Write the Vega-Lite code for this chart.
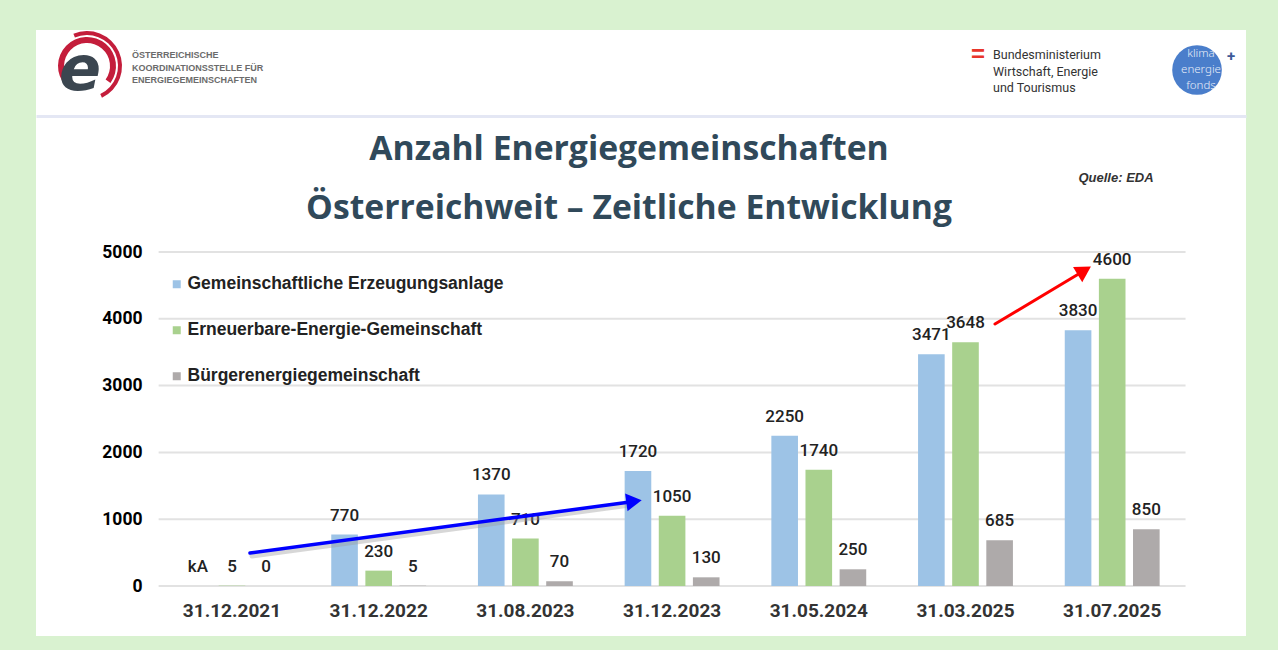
{
  "$schema": "https://vega.github.io/schema/vega-lite/v6.json",
  "width": 1210,
  "height": 606,
  "autosize": {"type": "none"},
  "padding": {"left": 36, "top": 30, "right": 32, "bottom": 14},
  "background": "#d9f2d0",
  "config": {"view": {"fill": "#ffffff", "stroke": null}, "font": "Roboto"},
  "title": {
    "text": ["Anzahl Energiegemeinschaften", "Österreichweit – Zeitliche Entwicklung"],
    "font": "Open Sans", "fontSize": 33.7, "fontWeight": "bold", "color": "#30495a",
    "anchor": "middle", "frame": "group", "baseline": "top", "offset": -195.5, "dx": -12, "lineHeight": 59
  },
  "data": {"values": [{}]},
  "datasets": {
    "counts": [
      {"date": "31.12.2021", "series": "Gemeinschaftliche Erzeugungsanlage", "value": 0, "label": "kA"},
      {"date": "31.12.2021", "series": "Erneuerbare-Energie-Gemeinschaft", "value": 5, "label": "5"},
      {"date": "31.12.2021", "series": "Bürgerenergiegemeinschaft", "value": 0, "label": "0"},
      {"date": "31.12.2022", "series": "Gemeinschaftliche Erzeugungsanlage", "value": 770, "label": "770"},
      {"date": "31.12.2022", "series": "Erneuerbare-Energie-Gemeinschaft", "value": 230, "label": "230"},
      {"date": "31.12.2022", "series": "Bürgerenergiegemeinschaft", "value": 5, "label": "5"},
      {"date": "31.08.2023", "series": "Gemeinschaftliche Erzeugungsanlage", "value": 1370, "label": "1370"},
      {"date": "31.08.2023", "series": "Erneuerbare-Energie-Gemeinschaft", "value": 710, "label": "710"},
      {"date": "31.08.2023", "series": "Bürgerenergiegemeinschaft", "value": 70, "label": "70"},
      {"date": "31.12.2023", "series": "Gemeinschaftliche Erzeugungsanlage", "value": 1720, "label": "1720"},
      {"date": "31.12.2023", "series": "Erneuerbare-Energie-Gemeinschaft", "value": 1050, "label": "1050"},
      {"date": "31.12.2023", "series": "Bürgerenergiegemeinschaft", "value": 130, "label": "130"},
      {"date": "31.05.2024", "series": "Gemeinschaftliche Erzeugungsanlage", "value": 2250, "label": "2250"},
      {"date": "31.05.2024", "series": "Erneuerbare-Energie-Gemeinschaft", "value": 1740, "label": "1740"},
      {"date": "31.05.2024", "series": "Bürgerenergiegemeinschaft", "value": 250, "label": "250"},
      {"date": "31.03.2025", "series": "Gemeinschaftliche Erzeugungsanlage", "value": 3471, "label": "3471"},
      {"date": "31.03.2025", "series": "Erneuerbare-Energie-Gemeinschaft", "value": 3648, "label": "3648"},
      {"date": "31.03.2025", "series": "Bürgerenergiegemeinschaft", "value": 685, "label": "685"},
      {"date": "31.07.2025", "series": "Gemeinschaftliche Erzeugungsanlage", "value": 3830, "label": "3830"},
      {"date": "31.07.2025", "series": "Erneuerbare-Energie-Gemeinschaft", "value": 4600, "label": "4600"},
      {"date": "31.07.2025", "series": "Bürgerenergiegemeinschaft", "value": 850, "label": "850"}
    ],
    "grid": [{"tick": 0}, {"tick": 1000}, {"tick": 2000}, {"tick": 3000}, {"tick": 4000}, {"tick": 5000}]
  },
  "layer": [
    {
      "data": {"name": "grid"},
      "mark": {"type": "rule", "color": "#e2e2e2", "strokeWidth": 2},
      "encoding": {
        "x": {"datum": "31.12.2021", "type": "nominal", "bandPosition": -0.2463,
          "scale": {"domain": ["31.12.2021", "31.12.2022", "31.08.2023", "31.12.2023", "31.05.2024", "31.03.2025", "31.07.2025"], "paddingInner": 0.33, "paddingOuter": 0.789, "align": 0.6343},
          "axis": {"title": null, "orient": "bottom", "offset": -26, "domain": false, "ticks": false, "tickSize": 0, "labelPadding": 0, "labelBaseline": "middle", "labelFont": "Roboto", "labelFontSize": 19, "labelFontWeight": "bold", "labelColor": "#333333", "labelAngle": 0, "grid": false}},
        "x2": {"datum": "31.07.2025", "bandPosition": 1.2463},
        "y": {"field": "tick", "type": "quantitative",
          "scale": {"domain": [-748.5, 8323.4], "nice": false, "zero": false},
          "axis": {"title": null, "values": [0, 1000, 2000, 3000, 4000, 5000, 7036], "format": "d", "labelExpr": "datum.value > 6000 ? '' : datum.label", "offset": -106, "domain": false, "ticks": false, "tickSize": 0, "labelPadding": 0, "labelFont": "Roboto", "labelFontSize": 17.5, "labelFontWeight": "bold", "labelColor": "#000000", "grid": true, "gridColor": {"condition": {"test": "datum.value > 6000", "value": "#e4e7f4"}, "value": "transparent"}, "gridWidth": 3}}
      }
    },
    {
      "data": {"name": "counts"},
      "mark": {"type": "bar"},
      "encoding": {
        "x": {"field": "date", "type": "nominal"},
        "xOffset": {"field": "series", "scale": {"domain": ["Gemeinschaftliche Erzeugungsanlage", "Erneuerbare-Energie-Gemeinschaft", "Bürgerenergiegemeinschaft"], "paddingInner": 0.22, "paddingOuter": 0.05}},
        "y": {"field": "value", "type": "quantitative"},
        "color": {"field": "series", "type": "nominal",
          "scale": {"domain": ["Gemeinschaftliche Erzeugungsanlage", "Erneuerbare-Energie-Gemeinschaft", "Bürgerenergiegemeinschaft"], "range": ["#9dc3e6", "#a9d18e", "#aeaaaa"]},
          "legend": {"title": null, "orient": "none", "legendX": 132, "legendY": 245.5, "direction": "vertical", "symbolType": "square", "symbolSize": 64, "symbolStrokeWidth": 0, "labelFont": "Liberation Sans", "labelFontSize": 17.5, "labelFontWeight": "bold", "labelColor": "#222222", "labelLimit": 0, "rowPadding": 27, "labelOffset": 2, "padding": 0}}
      }
    },
    {
      "data": {"name": "counts"},
      "mark": {"type": "text", "baseline": "middle", "dy": -19, "font": "Roboto", "fontSize": 17, "fontWeight": 500, "color": "#222222"},
      "encoding": {
        "x": {"field": "date", "type": "nominal"},
        "xOffset": {"field": "series"},
        "y": {"field": "value", "type": "quantitative"},
        "text": {"field": "label"}
      }
    },
    {
      "mark": {"type": "arc", "theta": -2.3, "theta2": 2.2, "radius": 29, "radius2": 23, "color": "#c41d3b"},
      "encoding": {"x": {"datum": "31.12.2021", "type": "nominal", "bandPosition": -0.975}, "y": {"datum": 7784, "type": "quantitative"}}
    },
    {
      "mark": {"type": "arc", "theta": -0.4, "theta2": 2.7, "radius": 35, "radius2": 31, "color": "#c41d3b"},
      "encoding": {"x": {"datum": "31.12.2021", "type": "nominal", "bandPosition": -0.975}, "y": {"datum": 7784, "type": "quantitative"}}
    },
    {
      "mark": {"type": "text", "text": "e", "font": "DejaVu Sans", "fontSize": 62, "fontWeight": "bold", "fontStyle": "italic", "color": "#3b4650", "align": "center", "baseline": "alphabetic"},
      "encoding": {"x": {"datum": "31.12.2021", "type": "nominal", "bandPosition": -1.046}, "y": {"datum": 7425, "type": "quantitative"}}
    },
    {
      "mark": {"type": "text", "font": "Liberation Sans", "fontSize": 9, "fontWeight": "bold", "color": "#6b6b6b", "align": "left", "baseline": "middle", "lineHeight": 12.5},
      "encoding": {"x": {"datum": "31.12.2021", "type": "nominal", "bandPosition": -0.517}, "y": {"datum": 7949, "type": "quantitative"},
        "text": {"value": ["ÖSTERREICHISCHE", "KOORDINATIONSSTELLE FÜR", "ENERGIEGEMEINSCHAFTEN"]}}
    },
    {
      "mark": {"type": "text", "text": "=", "font": "Liberation Sans", "fontSize": 24, "fontWeight": "bold", "color": "#e8352a", "align": "center", "baseline": "middle"},
      "encoding": {"x": {"datum": "31.03.2025", "type": "nominal", "bandPosition": 0.627}, "y": {"datum": 7942, "type": "quantitative"}}
    },
    {
      "mark": {"type": "text", "font": "Roboto", "fontSize": 12.5, "color": "#333333", "align": "left", "baseline": "middle", "lineHeight": 16.5},
      "encoding": {"x": {"datum": "31.03.2025", "type": "nominal", "bandPosition": 0.78}, "y": {"datum": 7949, "type": "quantitative"},
        "text": {"value": ["Bundesministerium", "Wirtschaft, Energie", "und Tourismus"]}}
    },
    {
      "mark": {"type": "point", "shape": "circle", "filled": true, "size": 2463, "color": "#4a7ecb", "opacity": 1, "strokeWidth": 0},
      "encoding": {"x": {"datum": "31.07.2025", "type": "nominal", "bandPosition": 1.363}, "y": {"datum": 7725, "type": "quantitative"}}
    },
    {
      "mark": {"type": "text", "font": "Noto Sans", "fontSize": 11.5, "fontWeight": 300, "color": "#e6edf8", "align": "center", "baseline": "middle", "lineHeight": 16},
      "encoding": {"x": {"datum": "31.07.2025", "type": "nominal", "bandPosition": 1.4035}, "y": {"datum": 7964, "type": "quantitative"},
        "text": {"value": ["klima", "energie", "fonds"]}}
    },
    {
      "mark": {"type": "text", "text": "+", "font": "Roboto", "fontSize": 15, "fontWeight": "bold", "color": "#3d5a99", "align": "center", "baseline": "middle"},
      "encoding": {"x": {"datum": "31.07.2025", "type": "nominal", "bandPosition": 1.709}, "y": {"datum": 7934, "type": "quantitative"}}
    },
    {
      "mark": {"type": "text", "text": "Quelle: EDA", "font": "Liberation Sans", "fontSize": 13, "fontWeight": "bold", "fontStyle": "italic", "color": "#333333", "align": "center", "baseline": "middle"},
      "encoding": {"x": {"datum": "31.07.2025", "type": "nominal", "bandPosition": 0.539}, "y": {"datum": 6108, "type": "quantitative"}}
    },
    {
      "mark": {"type": "rule", "color": "#9a9a9a", "strokeWidth": 5, "opacity": 0.4, "strokeCap": "round"},
      "encoding": {"x": {"datum": "31.12.2021", "type": "nominal", "bandPosition": 0.7035}, "y": {"datum": 449, "type": "quantitative"},
        "x2": {"datum": "31.12.2023", "bandPosition": 0.0717}, "y2": {"datum": 1212.6}}
    },
    {
      "mark": {"type": "rule", "color": "#0000ff", "strokeWidth": 3.5, "strokeCap": "round"},
      "encoding": {"x": {"datum": "31.12.2021", "type": "nominal", "bandPosition": 0.683}, "y": {"datum": 494, "type": "quantitative"},
        "x2": {"datum": "31.12.2023", "bandPosition": 0.0717}, "y2": {"datum": 1257.5}}
    },
    {
      "mark": {"type": "point", "shape": "triangle-right", "filled": true, "size": 320, "color": "#0000ff", "opacity": 1, "angle": -7.7},
      "encoding": {"x": {"datum": "31.12.2023", "type": "nominal", "bandPosition": 0.1124}, "y": {"datum": 1269, "type": "quantitative"}}
    },
    {
      "mark": {"type": "rule", "color": "#ff0000", "strokeWidth": 3, "strokeCap": "round"},
      "encoding": {"x": {"datum": "31.03.2025", "type": "nominal", "bandPosition": 0.8}, "y": {"datum": 3922, "type": "quantitative"},
        "x2": {"datum": "31.07.2025", "bandPosition": 0.162}, "y2": {"datum": 4675}}
    },
    {
      "mark": {"type": "point", "shape": "triangle-right", "filled": true, "size": 320, "color": "#ff0000", "opacity": 1, "angle": -30.9},
      "encoding": {"x": {"datum": "31.07.2025", "type": "nominal", "bandPosition": 0.216}, "y": {"datum": 4722, "type": "quantitative"}}
    }
  ]
}
